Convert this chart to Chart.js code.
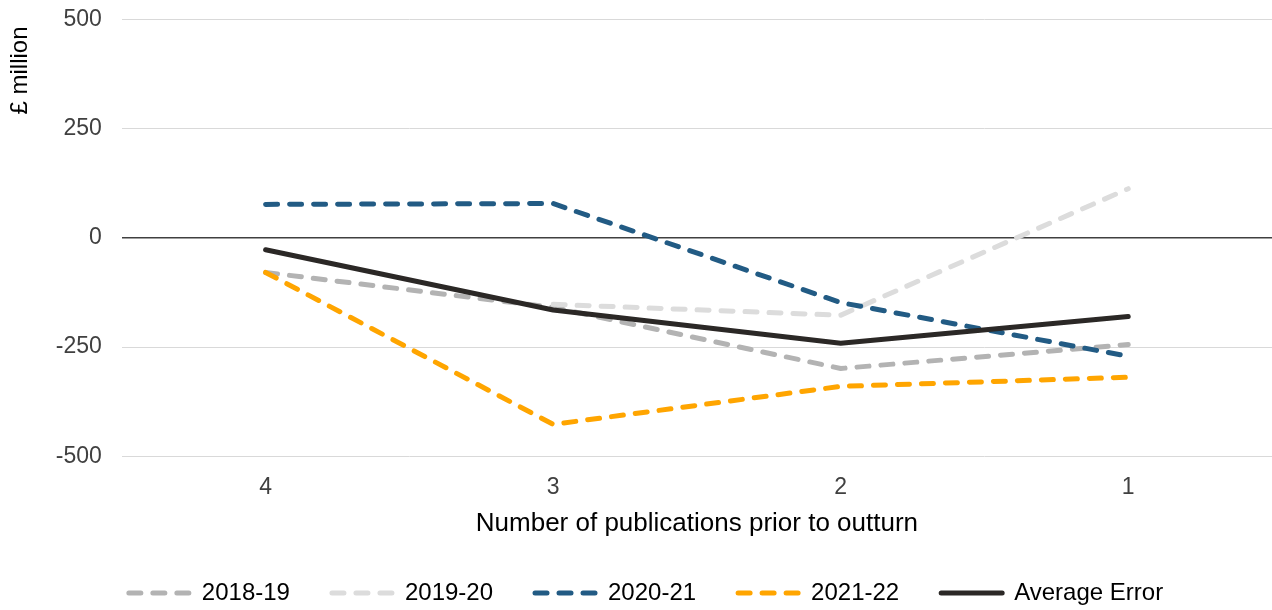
<!DOCTYPE html>
<html>
<head>
<meta charset="utf-8">
<script src="https://cdn.jsdelivr.net/npm/chart.js@4/dist/chart.umd.min.js"></script>
<style>
  html, body { margin: 0; padding: 0; background: #fff; }
  #wrap { width: 1272px; height: 610px; }
</style>
</head>
<body>
<div id="wrap"><canvas id="LineChart"></canvas></div>
<script>
const categories = ['4', '3', '2', '1'];
const err2018 = [-79, -159, -299, -244];
const err2019 = [null, -152, -177, 113];
const err2020 = [77, 79, -148, -271];
const err2021 = [-79, -427, -340, -319];
const avgError = [-27, -165, -241, -180];
const yTicks = [-500, -250, 0, 250, 500];

const font = "'Liberation Sans', Arial, sans-serif";

function series(label, data, color, dashed, order) {
    return {
        label: label,
        data: data,
        borderColor: color,
        backgroundColor: color,
        borderWidth: 5,
        borderDash: dashed ? [12, 12] : [],
        borderCapStyle: 'round',
        borderJoinStyle: 'round',
        pointRadius: 0,
        pointHoverRadius: 0,
        tension: 0,
        order: order
    };
}

// nudge the legend a little to the right, like the original
const legendShift = {
    id: 'legendShift',
    afterLayout(chart) {
        chart.legend.left += 10;
        chart.legend.right += 10;
    }
};

const ctx = document.getElementById('LineChart').getContext('2d');
const lineChart = new Chart(ctx, {
    type: 'line',
    data: {
        labels: categories,
        datasets: [
            series('2018-19', err2018, '#b3b3b3', true, 5),
            series('2019-20', err2019, '#dcdcdc', true, 4),
            series('2020-21', err2020, '#225b84', true, 3),
            series('2021-22', err2021, '#ffa500', true, 2),
            series('Average Error', avgError, '#2b2826', false, 1)
        ]
    },
    plugins: [legendShift],
    options: {
        responsive: true,
        maintainAspectRatio: false,
        animation: false,
        layout: { padding: { top: 0, right: 0, bottom: -5, left: 0 } },
        plugins: {
            tooltip: { enabled: false },
            legend: {
                position: 'bottom',
                labels: {
                    usePointStyle: true,
                    pointStyle: 'line',
                    pointStyleWidth: 61,
                    padding: 42,
                    color: '#000',
                    font: { family: font, size: 24 },
                    sort: (a, b) => a.datasetIndex - b.datasetIndex,
                    generateLabels: (chart) => Chart.defaults.plugins.legend.labels.generateLabels(chart).map(item => {
                        const ds = chart.data.datasets[item.datasetIndex];
                        item.lineDash = ds.borderDash;
                        item.lineCap = 'round';
                        item.lineWidth = 5;
                        item.strokeStyle = ds.borderColor;
                        return item;
                    })
                }
            }
        },
        scales: {
            x: {
                offset: true,
                grid: { display: false, drawTicks: false },
                border: { display: false },
                ticks: { color: '#404040', padding: 18, font: { family: font, size: 23 } },
                title: {
                    display: true,
                    text: 'Number of publications prior to outturn',
                    color: '#000',
                    padding: { top: -12, bottom: 0 },
                    font: { family: font, size: 26 }
                }
            },
            y: {
                min: -500,
                max: 500,
                afterBuildTicks: (axis) => { axis.ticks = yTicks.map(v => ({ value: v })); },
                grid: {
                    drawTicks: true,
                    tickLength: 14,
                    tickColor: 'rgba(0,0,0,0)',
                    color: (c) => c.tick && c.tick.value === 0 ? '#404040' : '#d9d9d9',
                    lineWidth: (c) => c.tick && c.tick.value === 0 ? 1.5 : 1
                },
                border: { display: false },
                ticks: { color: '#404040', padding: 6, font: { family: font, size: 23 } },
                title: {
                    display: true,
                    text: '£ million ',
                    align: 'end',
                    color: '#000',
                    padding: { top: 6, bottom: 15 },
                    font: { family: font, size: 24 }
                }
            }
        }
    }
});
</script>
</body>
</html>
